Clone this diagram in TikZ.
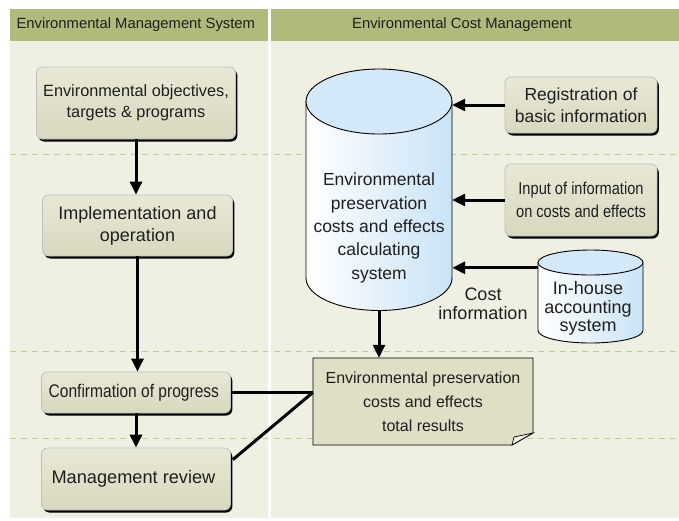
\documentclass[tikz,border=0pt]{standalone}
\usepackage{fontspec}
\setmainfont{Liberation Sans}
\newfontfamily\narrowfont{Liberation Sans}[FakeStretch=0.85]
\usetikzlibrary{arrows.meta, calc, shadows}
\definecolor{panelbg}{HTML}{EFEFE2}
\definecolor{headgreen}{HTML}{AEBB7B}
\definecolor{dashgreen}{HTML}{C4C98C}
\definecolor{boxtop}{HTML}{E8E8D6}
\definecolor{boxbottom}{HTML}{D8D8BF}
\definecolor{docfill}{HTML}{DFDFC5}
\definecolor{cylblue}{HTML}{C9E3F7}
\definecolor{cylend}{HTML}{D3E8F8}
\definecolor{textdark}{HTML}{1F1F1F}

% drum: centre x, top y, bottom y, x radius, y radius
\newcommand{\drawdrum}[5]{%
  \shade[left color=white, right color=cylblue, draw=black, line width=0.9pt]
    ({#1-#4},{#2+#5}) -- ({#1-#4},{#3-#5})
    arc[start angle=180, end angle=0, x radius=#4, y radius=#5]
    -- ({#1+#4},{#2+#5}) -- cycle;
  \filldraw[fill=cylend, draw=black, line width=0.9pt]
    (#1,{#2+#5}) ellipse[x radius=#4, y radius=#5];
}

\begin{document}
\begin{tikzpicture}[x=1pt, y=-1pt,
    stepbox/.style={
        rounded corners=6pt,
        top color=boxtop,
        bottom color=boxbottom,
        draw=black!25,
        line width=0.8pt,
        drop shadow={shadow xshift=1.8pt, shadow yshift=-2.5pt, fill=black, opacity=1},
        align=center,
        inner sep=0pt,
        text=textdark
    },
    arrow/.style={
        -{Triangle[width=12pt, length=13pt]},
        line width=3pt
    },
    link/.style={line width=3pt},
    dashline/.style={dash pattern=on 6pt off 5pt, draw=dashgreen, line width=0.9pt},
    headtext/.style={font=\fontsize{14.8}{17}\selectfont, text=textdark},
    plain/.style={align=center, text=textdark, inner sep=0pt}
]

\fill[white] (0,0) rectangle (679,520);
\useasboundingbox (0,0) rectangle (679,520);

% Panels and headers
\fill[panelbg] (10,9) rectangle (679,518);
\fill[headgreen] (10,9) rectangle (679,41);
\foreach \y in {154, 351, 438}
    \draw[dashline] (10,\y) -- (679,\y);
\fill[white] (268,9) rectangle (271,520);

\node[headtext, anchor=west] (emshead) at (13,25) {Environmental Management System};
\node[headtext] (ecmhead) at (462,25) {Environmental Cost Management};

% EMS column
\node[stepbox, minimum width=199, minimum height=72, font=\fontsize{16.3}{21}\selectfont] (objectives) at (136,103) {
    Environmental objectives,\\
    targets \& programs
};
\node[stepbox, minimum width=190, minimum height=61, font=\fontsize{18}{22}\selectfont] (implement) at (137.5,225.5) {
    Implementation and\\
    operation
};
\node[stepbox, minimum width=189, minimum height=41, font=\narrowfont\fontsize{18.3}{22}\selectfont] (progress) at (136,392.5) {
    Confirmation of progress
};
\node[stepbox, minimum width=189, minimum height=62, font=\fontsize{18.2}{22}\selectfont] (review) at (136,479) {
    Management review
};

% Cost column
\drawdrum{379}{69}{310.5}{73}{32.5}
\node[plain, minimum width=146, minimum height=241.5] (calcsys) at (379,189.75) {};
\node[plain, font=\fontsize{17.5}{23.3}\selectfont] (calctext) at (379,228) {
    Environmental\\
    preservation\\
    costs and effects\\
    calculating\\
    system
};

\node[stepbox, minimum width=152, minimum height=56, font=\fontsize{17.5}{22}\selectfont] (registration) at (581,105) {
    Registration of\\
    basic information
};
\node[stepbox, minimum width=152, minimum height=72, font=\narrowfont\fontsize{17.2}{23}\selectfont] (input) at (581,200) {
    Input of information\\
    on costs and effects
};

\drawdrum{590.5}{250}{343}{52.5}{12.5}
\node[plain, minimum width=105, minimum height=93] (accounting) at (590.5,296.5) {};
\node[plain, font=\fontsize{18}{18.5}\selectfont] (accttext) at (588,308.5) {
    In-house\\
    accounting\\
    system
};
\node[plain, font=\fontsize{18}{18.5}\selectfont] (costinfo) at (483,304) {
    Cost\\
    information
};

% Total results sheet with folded corner
\filldraw[fill=docfill, draw=black, line width=0.9pt]
    (313,358) -- (533,358) -- (533,433) -- (512,445) -- (313,445) -- cycle;
\filldraw[fill=panelbg, draw=black, line width=0.7pt]
    (512,445) -- (514,437) -- (533,433) -- cycle;
\node[plain, minimum width=220, minimum height=87, font=\fontsize{16}{24}\selectfont] (results) at (423,401.5) {
    Environmental preservation\\
    costs and effects\\
    total results
};

% Arrows
\draw[arrow] (objectives.south) -- (objectives.south |- implement.north);
\draw[arrow] (implement.south) -- (implement.south |- progress.north);
\draw[arrow] (progress.south) -- (progress.south |- review.north);
\draw[arrow] (registration.west) -- (registration.west -| calcsys.east);
\draw[arrow] (input.west) -- (input.west -| calcsys.east);
\coordinate (acctport) at ($(accounting.north west)+(0,18)$);
\draw[arrow] (acctport) -- (acctport -| calcsys.east);
\draw[arrow] (calcsys.south) -- (calcsys.south |- results.north);

% Feedback lines
\draw[link] (progress.east) -- (progress.east -| results.west) coordinate (joint);
\draw[link] ($(review.north east)+(2,12)$) -- (joint);

\end{tikzpicture}
\end{document}
